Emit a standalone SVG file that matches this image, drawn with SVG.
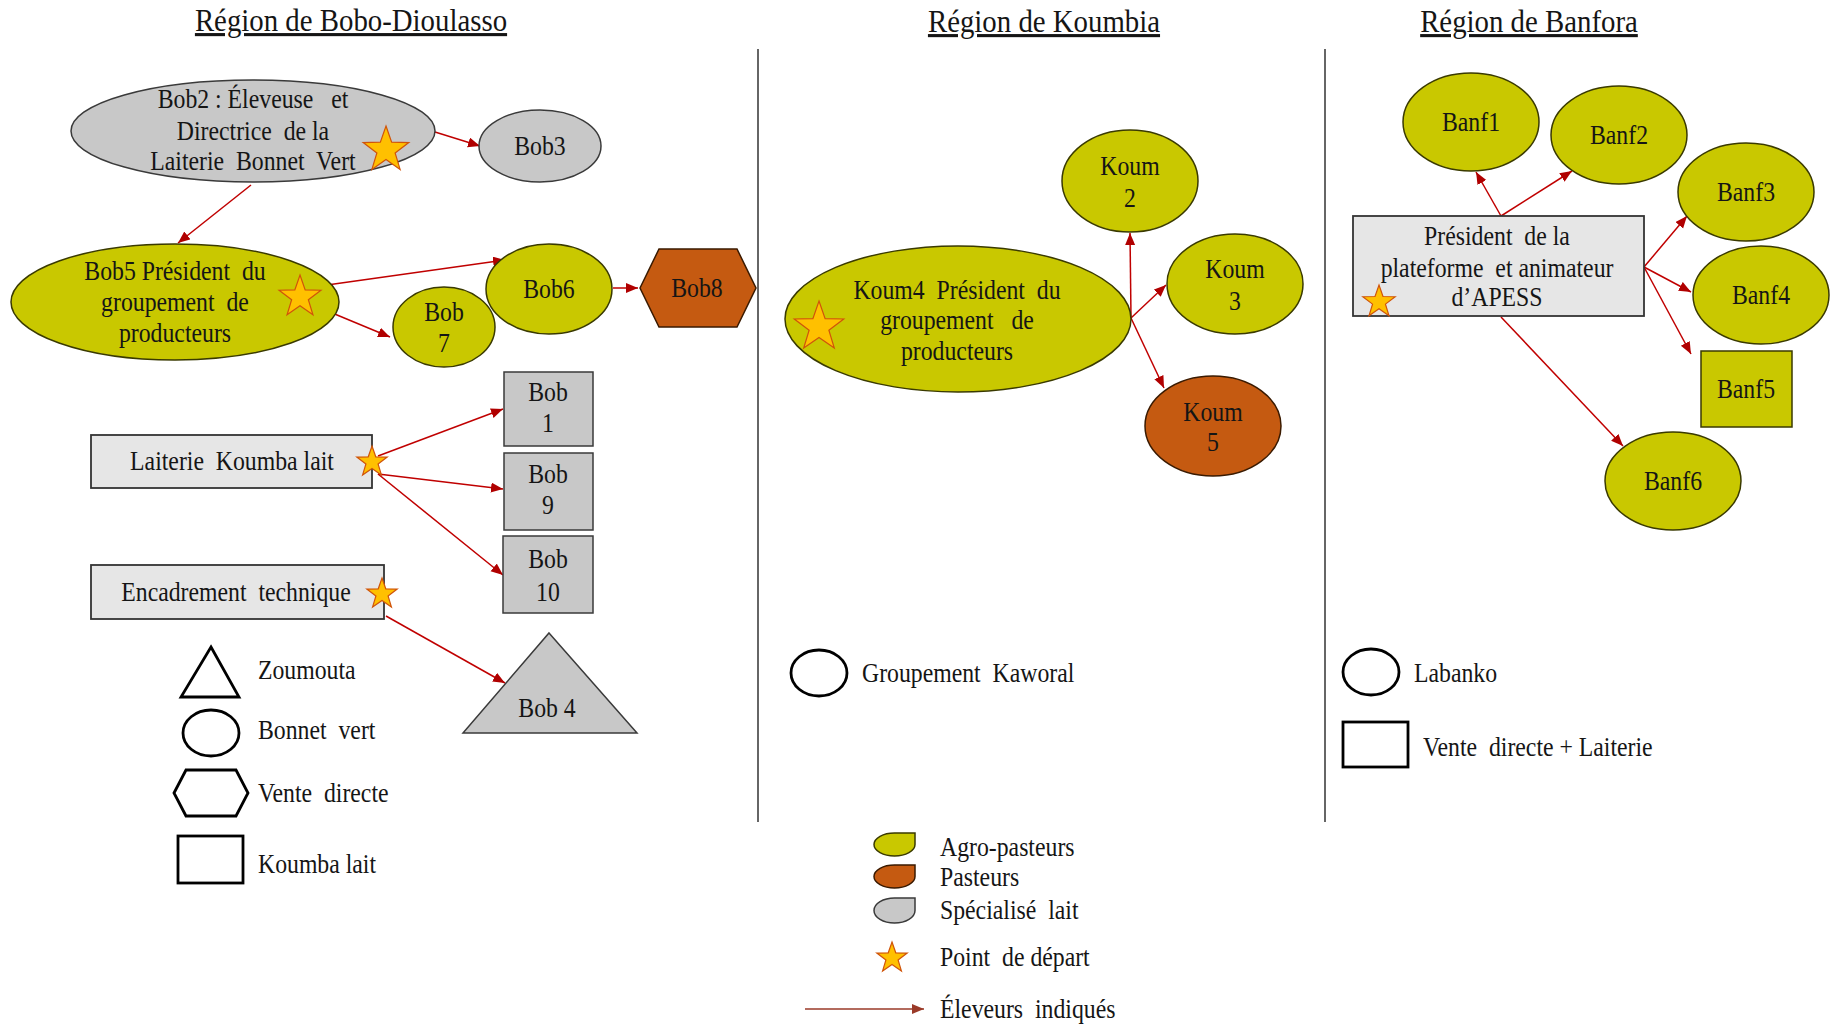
<svg xmlns="http://www.w3.org/2000/svg" xmlns:xlink="http://www.w3.org/1999/xlink" width="1834" height="1026" viewBox="0 0 1834 1026">
<style>
text { font-family: "Liberation Serif", "Times New Roman", serif; font-size: 27px; fill: #151515; text-anchor: middle; white-space: pre; transform-box: fill-box; transform-origin: center; transform: scale(0.88, 1); }
.l { text-anchor: start; transform-origin: left center; }
.title { font-size: 31px; text-decoration: underline; transform: scale(0.93, 1); }
.yel { fill: #c9c800; stroke: #3a3a00; stroke-width: 1.5; }
.brn { fill: #c55a11; stroke: #3a1a00; stroke-width: 1.5; }
.gry { fill: #c8c8c8; stroke: #3a3a3a; stroke-width: 1.5; }
.box { fill: #e6e6e6; stroke: #333; stroke-width: 1.8; }
.leg { fill: none; stroke: #000; stroke-width: 2.8; }
.div { stroke: #333; stroke-width: 1.5; }
.arr { stroke: #c00000; stroke-width: 1.5; fill: none; marker-end: url(#ah); }
.star { fill: #ffc000; stroke: #d0540a; stroke-width: 1.2; }
</style>
<defs>
<marker id="ah" markerUnits="userSpaceOnUse" markerWidth="14" markerHeight="12" refX="12" refY="5" orient="auto">
<path d="M0,0 L12,5 L0,10 z" fill="#b00000"/>
</marker>
<marker id="ah2" markerUnits="userSpaceOnUse" markerWidth="14" markerHeight="12" refX="12" refY="5" orient="auto">
<path d="M0,0 L12,5 L0,10 z" fill="#9a3a28"/>
</marker>
<path id="starp" class="star" vector-effect="non-scaling-stroke" d="M0,-10 L2.35,-3.24 L9.51,-3.09 L3.8,1.24 L5.88,8.09 L0,4 L-5.88,8.09 L-3.8,1.24 L-9.51,-3.09 L-2.35,-3.24 Z"/>
</defs>
<rect width="1834" height="1026" fill="#fff"/>

<g id="titles">
<text class="title" x="351" y="31">Région de Bobo-Dioulasso</text>
<text class="title" x="1044" y="32">Région de Koumbia</text>
<text class="title" x="1529" y="32">Région de Banfora</text>
</g>
<g id="dividers">
<line class="div" x1="758" y1="49" x2="758" y2="822"/>
<line class="div" x1="1325" y1="49" x2="1325" y2="822"/>
</g>

<g id="connectors">
<line class="arr" x1="435" y1="132" x2="480" y2="146"/>
<line class="arr" x1="251" y1="185" x2="178" y2="243"/>
<line class="arr" x1="327" y1="285" x2="505" y2="260"/>
<line class="arr" x1="325" y1="310" x2="390" y2="337"/>
<line class="arr" x1="613" y1="288" x2="638" y2="288"/>
<line class="arr" x1="378" y1="456" x2="503" y2="409"/>
<line class="arr" x1="378" y1="474" x2="503" y2="489"/>
<line class="arr" x1="378" y1="474" x2="503" y2="575"/>
<line class="arr" x1="386" y1="616" x2="505" y2="683"/>
<line class="arr" x1="1131" y1="318" x2="1130" y2="233"/>
<line class="arr" x1="1131" y1="318" x2="1166" y2="285"/>
<line class="arr" x1="1131" y1="318" x2="1164" y2="388"/>
<line class="arr" x1="1501" y1="216" x2="1476" y2="172"/>
<line class="arr" x1="1501" y1="216" x2="1572" y2="171"/>
<line class="arr" x1="1644" y1="267" x2="1687" y2="216"/>
<line class="arr" x1="1644" y1="267" x2="1691" y2="292"/>
<line class="arr" x1="1644" y1="267" x2="1691" y2="354"/>
<line class="arr" x1="1501" y1="317" x2="1623" y2="446"/>
</g>

<g id="bob2">
<ellipse class="gry" cx="253" cy="131" rx="182" ry="51"/>
<text x="253" y="108">Bob2 : Éleveuse   et</text>
<text x="253" y="140">Directrice  de la</text>
<text x="253" y="170">Laiterie  Bonnet  Vert</text>
<use xlink:href="#starp" transform="translate(386,150) scale(2.4)"/>
</g>
<g id="bob3">
<ellipse class="gry" cx="540" cy="146" rx="61" ry="36"/>
<text x="540" y="155">Bob3</text>
</g>
<g id="bob5">
<ellipse class="yel" cx="175" cy="302" rx="164" ry="58"/>
<text x="175" y="280">Bob5 Président  du</text>
<text x="175" y="311">groupement  de</text>
<text x="175" y="342">producteurs</text>
<use xlink:href="#starp" transform="translate(300,297) scale(2.2)"/>
</g>
<g id="bob7">
<ellipse class="yel" cx="444" cy="327" rx="51" ry="40"/>
<text x="444" y="321">Bob</text>
<text x="444" y="352">7</text>
</g>
<g id="bob6">
<ellipse class="yel" cx="549" cy="289" rx="63" ry="45"/>
<text x="549" y="298">Bob6</text>
</g>
<g id="bob8">
<polygon class="brn" points="640,288 659,249 737,249 756,288 737,327 659,327"/>
<text x="697" y="297">Bob8</text>
</g>
<g id="laiterie-koumba">
<rect class="box" x="91" y="435" width="281" height="53"/>
<text x="232" y="470">Laiterie  Koumba lait</text>
<use xlink:href="#starp" transform="translate(372,462) scale(1.6)"/>
</g>
<g id="bob1">
<rect class="gry" x="504" y="372" width="89" height="74"/>
<text x="548" y="401">Bob</text>
<text x="548" y="432">1</text>
</g>
<g id="bob9">
<rect class="gry" x="504" y="453" width="89" height="77"/>
<text x="548" y="483">Bob</text>
<text x="548" y="514">9</text>
</g>
<g id="bob10">
<rect class="gry" x="503" y="536" width="90" height="77"/>
<text x="548" y="568">Bob</text>
<text x="548" y="601">10</text>
</g>
<g id="encadrement">
<rect class="box" x="91" y="565" width="293" height="54"/>
<text x="236" y="601">Encadrement  technique</text>
<use xlink:href="#starp" transform="translate(382,594) scale(1.6)"/>
</g>
<g id="bob4">
<polygon class="gry" points="549,633 637,733 463,733"/>
<text x="547" y="717">Bob 4</text>
</g>

<g id="legend-bobo">
<polygon class="leg" points="211,647 239,697 181,697"/>
<text class="l" x="258" y="679">Zoumouta</text>
<ellipse class="leg" cx="211" cy="733" rx="28" ry="23"/>
<text class="l" x="258" y="739">Bonnet  vert</text>
<polygon class="leg" points="174,793 186,770 236,770 248,793 236,816 186,816"/>
<text class="l" x="258" y="802">Vente  directe</text>
<rect class="leg" x="178" y="836" width="65" height="47"/>
<text class="l" x="258" y="873">Koumba lait</text>
</g>

<g id="koum4">
<ellipse class="yel" cx="958" cy="319" rx="173" ry="73"/>
<text x="957" y="299">Koum4  Président  du</text>
<text x="957" y="329">groupement   de</text>
<text x="957" y="360">producteurs</text>
<use xlink:href="#starp" transform="translate(819,327) scale(2.6)"/>
</g>
<g id="koum2">
<ellipse class="yel" cx="1130" cy="181" rx="68" ry="51"/>
<text x="1130" y="175">Koum</text>
<text x="1130" y="207">2</text>
</g>
<g id="koum3">
<ellipse class="yel" cx="1235" cy="284" rx="68" ry="50"/>
<text x="1235" y="278">Koum</text>
<text x="1235" y="310">3</text>
</g>
<g id="koum5">
<ellipse class="brn" cx="1213" cy="426" rx="68" ry="50"/>
<text x="1213" y="421">Koum</text>
<text x="1213" y="451">5</text>
</g>
<g id="legend-koumbia">
<ellipse class="leg" cx="819" cy="673" rx="28" ry="23"/>
<text class="l" x="862" y="682">Groupement  Kaworal</text>
</g>

<g id="president-apess">
<rect class="box" x="1353" y="216" width="291" height="100"/>
<text x="1497" y="245">Président  de la</text>
<text x="1497" y="277">plateforme  et animateur</text>
<text x="1497" y="306">d’APESS</text>
<use xlink:href="#starp" transform="translate(1379,302) scale(1.7)"/>
</g>
<g id="banf1">
<ellipse class="yel" cx="1471" cy="122" rx="68" ry="49"/>
<text x="1471" y="131">Banf1</text>
</g>
<g id="banf2">
<ellipse class="yel" cx="1619" cy="135" rx="68" ry="49"/>
<text x="1619" y="144">Banf2</text>
</g>
<g id="banf3">
<ellipse class="yel" cx="1746" cy="192" rx="68" ry="49"/>
<text x="1746" y="201">Banf3</text>
</g>
<g id="banf4">
<ellipse class="yel" cx="1761" cy="295" rx="68" ry="49"/>
<text x="1761" y="304">Banf4</text>
</g>
<g id="banf5">
<rect class="yel" x="1701" y="351" width="91" height="76"/>
<text x="1746" y="398">Banf5</text>
</g>
<g id="banf6">
<ellipse class="yel" cx="1673" cy="481" rx="68" ry="49"/>
<text x="1673" y="490">Banf6</text>
</g>
<g id="legend-banfora">
<ellipse class="leg" cx="1371" cy="672" rx="28" ry="23"/>
<text class="l" x="1414" y="682">Labanko</text>
<rect class="leg" x="1343" y="722" width="65" height="45"/>
<text class="l" x="1423" y="756">Vente  directe + Laiterie</text>
</g>

<g id="legend-main">
<path class="yel" d="M915,833 L915,844.5 A20.5,11.5 0 0 1 894.5,856 A20.5,11.5 0 0 1 874,844.5 A20.5,11.5 0 0 1 894.5,833 Z"/>
<text class="l" x="940" y="856">Agro-pasteurs</text>
<path class="brn" d="M915,865 L915,876.5 A20.5,11.5 0 0 1 894.5,888 A20.5,11.5 0 0 1 874,876.5 A20.5,11.5 0 0 1 894.5,865 Z"/>
<text class="l" x="940" y="886">Pasteurs</text>
<path class="gry" d="M915,898 L915,910.5 A20.5,12.5 0 0 1 894.5,923 A20.5,12.5 0 0 1 874,910.5 A20.5,12.5 0 0 1 894.5,898 Z"/>
<text class="l" x="940" y="919">Spécialisé  lait</text>
<use xlink:href="#starp" transform="translate(892,958) scale(1.6)"/>
<text class="l" x="940" y="966">Point  de départ</text>
<line x1="805" y1="1009" x2="924" y2="1009" stroke="#9a3a28" stroke-width="1.5" marker-end="url(#ah2)"/>
<text class="l" x="940" y="1018">Éleveurs  indiqués</text>
</g>
</svg>
